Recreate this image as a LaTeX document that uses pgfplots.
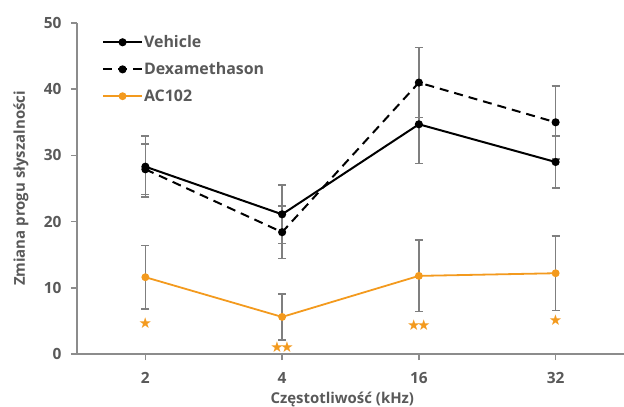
\documentclass[border=0pt]{standalone}
\usepackage{fontspec}
\setmainfont{Open Sans}
\newfontfamily\starfont{DejaVu Sans}
\usepackage{pgfplots}
\pgfplotsset{compat=1.18}

\definecolor{txtgray}{HTML}{595959}
\definecolor{axgray}{HTML}{8C8C8C}
\definecolor{errgray}{HTML}{7F7F7F}
\definecolor{acorange}{HTML}{F39A1E}

\pgfplotsset{
  errstyle/.style={
    error bars/.cd, y dir=both, y explicit,
    error bar style={errgray, line width=1.6bp, solid},
    error mark options={rotate=90, errgray, mark size=4bp, line width=1.6bp, solid},
  },
  legend image code/.code={
    \draw[mark repeat=2, mark phase=2, #1] plot coordinates {(0bp,0bp) (19.5bp,0bp) (39bp,0bp)};
  },
}

\begin{document}
\begin{tikzpicture}
\begin{axis}[
    name=ax,
    scale only axis,
    width=547bp, height=331bp,
    xmin=0.5, xmax=4.5,
    ymin=0, ymax=50,
    axis x line=bottom, axis y line=left,
    axis line style={-, axgray, line width=1.5bp},
    xtick={1,2,3,4},
    xticklabels={2,4,16,32},
    ytick={0,10,20,30,40,50},
    tick align=outside,
    major tick length=6bp,
    tick style={axgray, line width=1.5bp},
    tick label style={font=\fontsize{15.5}{15.5}\selectfont\bfseries, text=txtgray},
    xticklabel style={yshift=-9bp},
    yticklabel style={xshift=-6bp},
    /pgf/number format/assume math mode=true,
    xlabel={Częstotliwość (kHz)},
    ylabel={Zmiana progu słyszalności},
    label style={font=\fontsize{15}{15}\selectfont\bfseries, text=txtgray},
    xlabel style={at={(axis description cs:0.485,-0.136)}, anchor=center},
    ylabel style={at={(axis description cs:-0.1024,0.5)}, anchor=center},
    legend style={draw=none, fill=none, at={(0.04,0.972)}, anchor=north west,
      font=\fontsize{16}{16}\selectfont\bfseries, text=txtgray,
      row sep=11.5bp, nodes={inner sep=1bp}},
    legend cell align=left,
    clip=false,
]
\addplot[black, line width=2bp, mark=*, mark size=3bp, errstyle] coordinates {
    (1,28.3) +- (0,4.6)
    (2,21.1) +- (0,4.4)
    (3,34.7) +- (0,5.9)
    (4,29.0) +- (0,3.9)
};
\addlegendentry{Vehicle}

\addplot[black, line width=2bp, dash pattern=on 9bp off 6bp, mark=*, mark size=3bp,
    mark options={solid}, errstyle] coordinates {
    (1,27.9) +- (0,3.8)
    (2,18.4) +- (0,4.0)
    (3,41.0) +- (0,5.3)
    (4,35.0) +- (0,5.5)
};
\addlegendentry{Dexamethason}

\addplot[acorange, line width=1.8bp, mark=*, mark size=3bp, errstyle] coordinates {
    (1,11.6) +- (0,4.8)
    (2,5.6) +- (0,3.5)
    (3,11.8) +- (0,5.4)
    (4,12.2) +- (0,5.6)
};
\addlegendentry{AC102}

% significance stars
\addplot[draw=none, point meta=explicit symbolic,
    nodes near coords, nodes near coords align={center},
    every node near coord/.append style={font=\starfont\fontsize{15}{15}\selectfont,
      text=acorange, inner sep=0pt}]
    table[meta=s] {
x y s
1 4.7 ★
2 1.1 ★\kern-3.5bp★
3 4.4 ★\kern-3.5bp★
4 5.1 ★
};
\end{axis}
\pgfresetboundingbox
\path[use as bounding box] ([xshift=-77bp,yshift=-53bp]ax.south west) rectangle ([yshift=23bp]ax.north east);
\end{tikzpicture}
\end{document}
